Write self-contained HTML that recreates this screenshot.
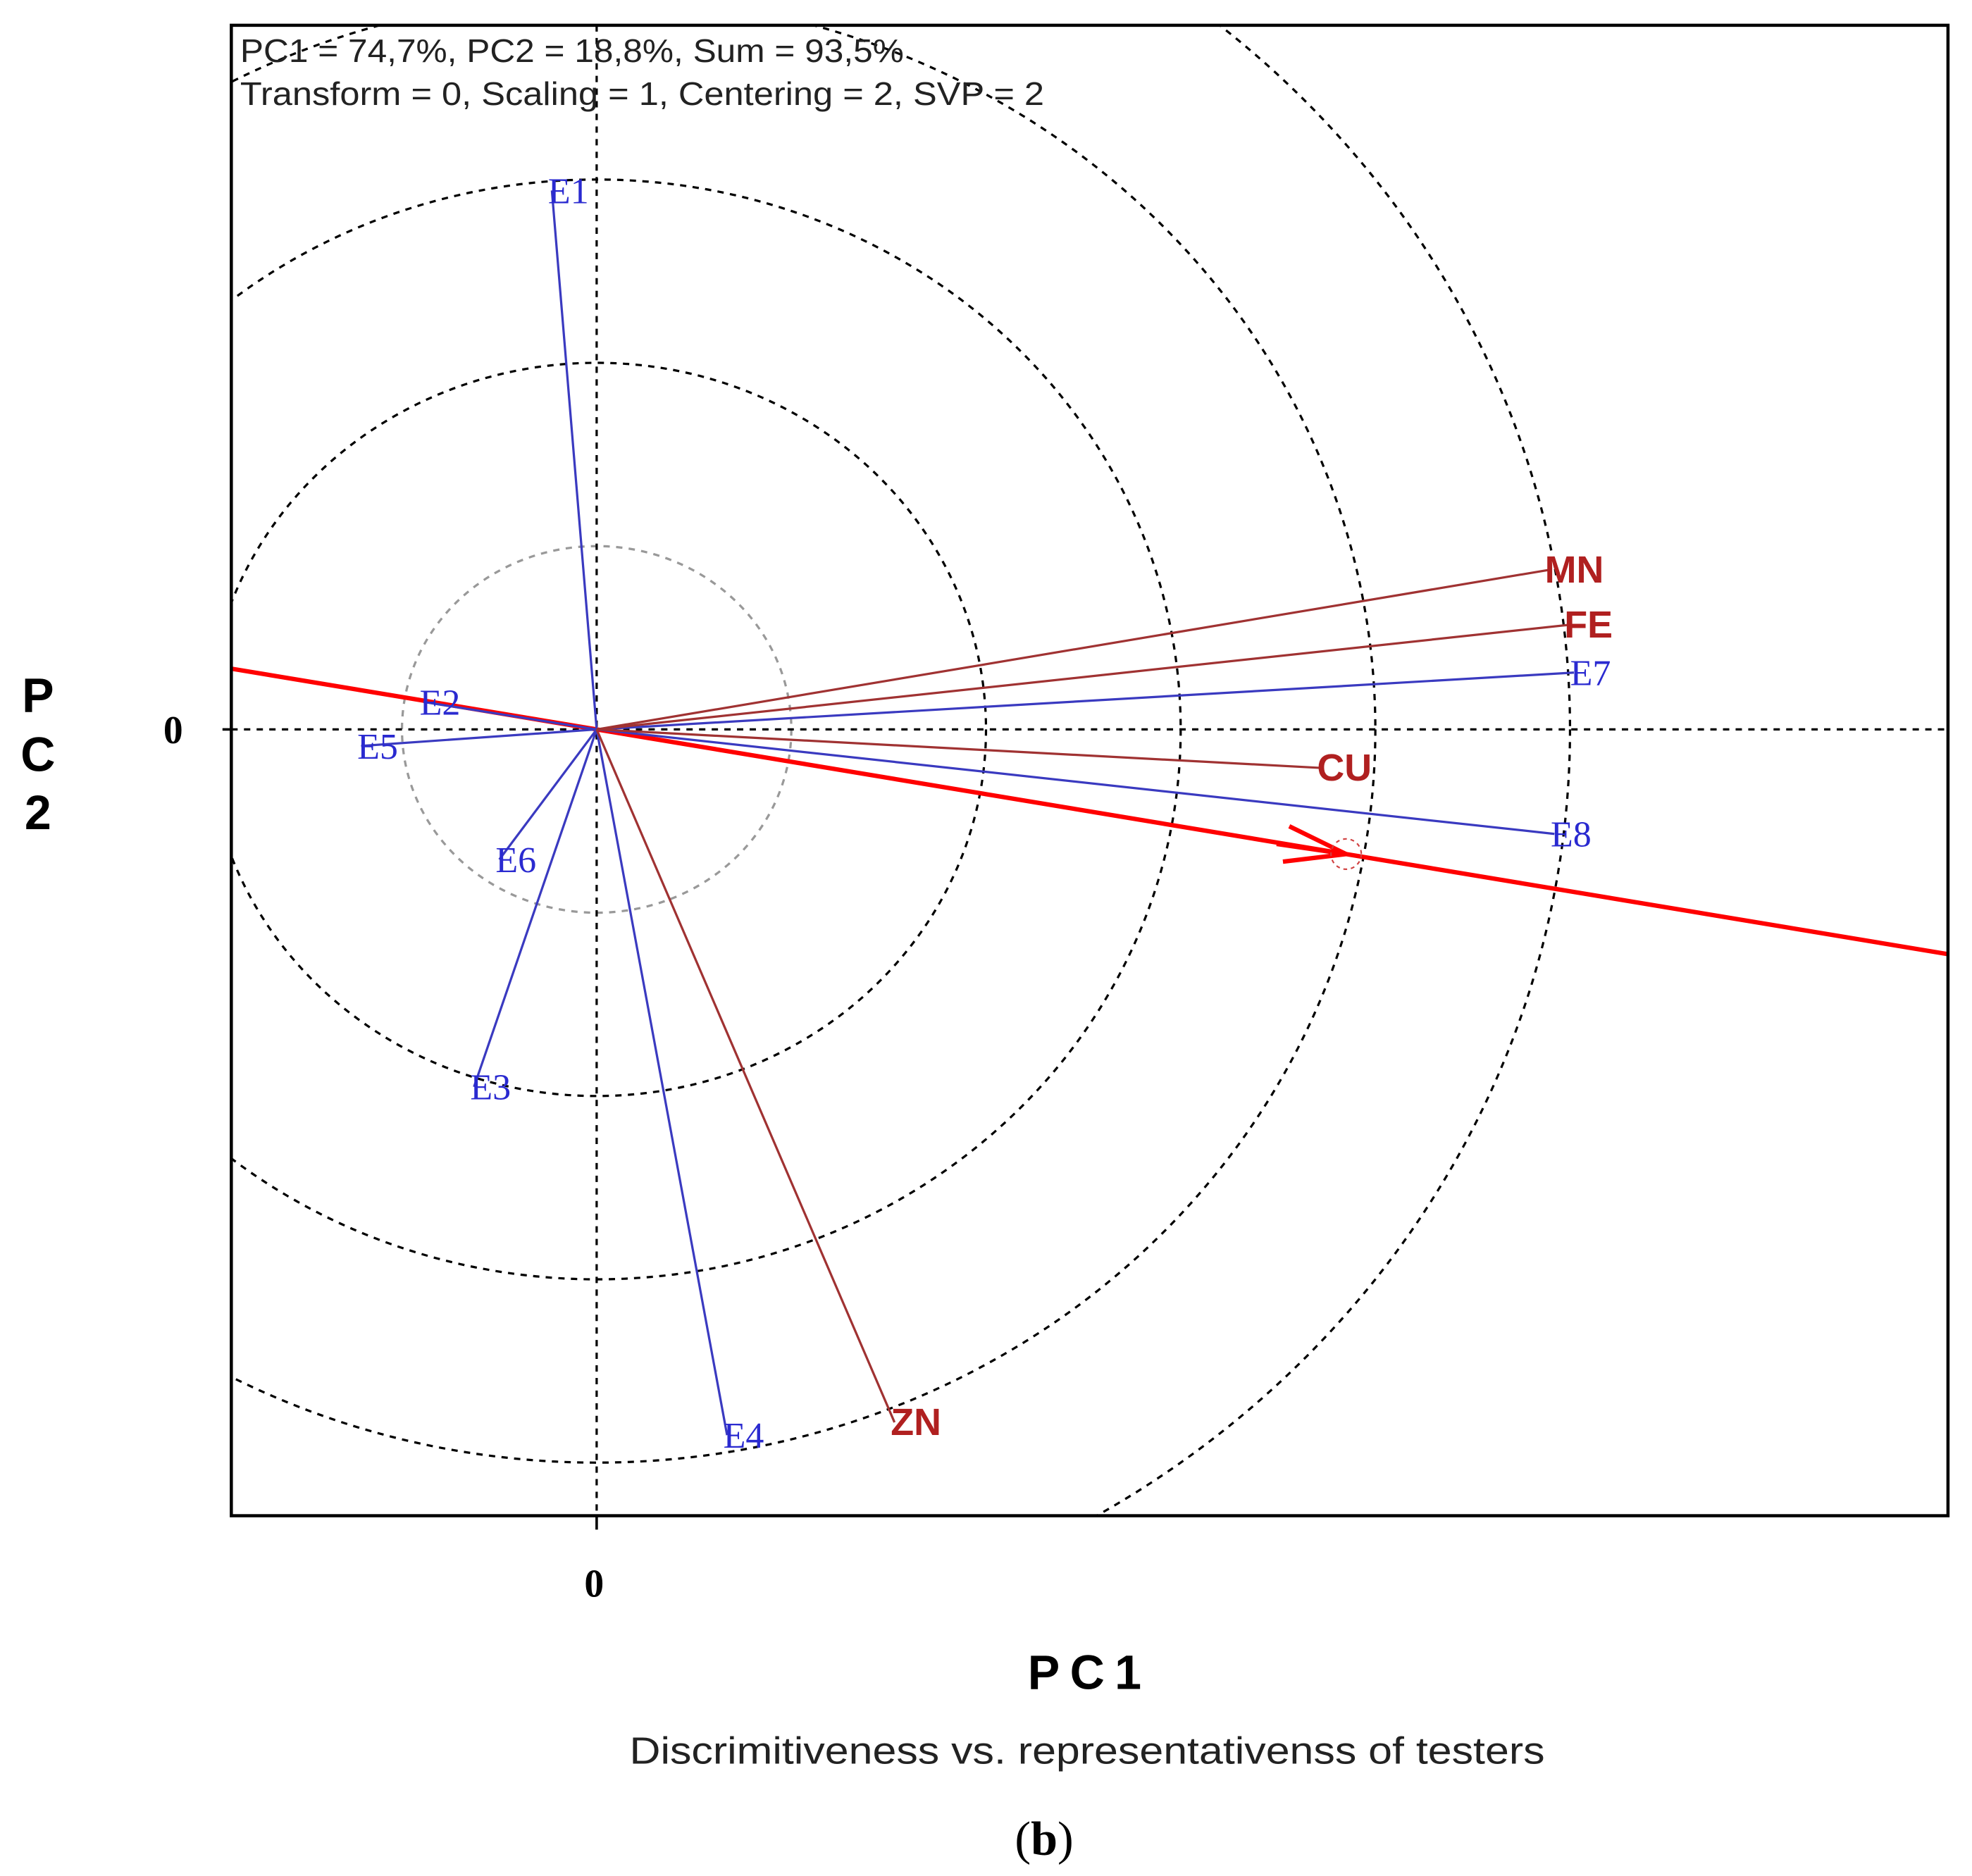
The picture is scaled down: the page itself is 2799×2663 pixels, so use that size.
<!DOCTYPE html>
<html><head><meta charset="utf-8"><style>
html,body{margin:0;padding:0;background:#fff;}
svg{display:block;}
</style></head><body>
<svg id="chart" width="2799" height="2663" viewBox="0 0 1560 1484" preserveAspectRatio="none" xmlns="http://www.w3.org/2000/svg">
<defs><clipPath id="pc"><rect x="183" y="20" width="1358" height="1179"/></clipPath></defs>
<rect x="0" y="0" width="1560" height="1484" fill="#fff"/>
<g id="circles" clip-path="url(#pc)"></g>
<g id="axes"></g>
<g id="vectors"></g>
<rect x="183" y="20" width="1358" height="1179" fill="none" stroke="#000" stroke-width="2.5"/>
<text x="190" y="49" font-family="Liberation Sans, sans-serif" font-size="26" fill="#222" textLength="525" lengthAdjust="spacingAndGlyphs">PC1 = 74,7%, PC2 = 18,8%, Sum = 93,5%</text>
<text x="190" y="83" font-family="Liberation Sans, sans-serif" font-size="26" fill="#222" textLength="636" lengthAdjust="spacingAndGlyphs">Transform = 0, Scaling = 1, Centering = 2, SVP = 2</text>
<text x="137" y="588" text-anchor="middle" font-family="Liberation Serif, serif" font-weight="bold" font-size="31">0</text>
<text x="470" y="1263" text-anchor="middle" font-family="Liberation Serif, serif" font-weight="bold" font-size="31">0</text>
<g font-family="Liberation Sans, sans-serif" font-weight="bold" font-size="38" text-anchor="middle">
<text x="30" y="563">P</text><text x="30" y="610">C</text><text x="30" y="656">2</text></g>
<text x="862" y="1336" text-anchor="middle" font-family="Liberation Sans, sans-serif" font-weight="bold" font-size="38" letter-spacing="8">PC1</text>
<text x="860" y="1395" text-anchor="middle" font-family="Liberation Sans, sans-serif" font-size="30" fill="#222" textLength="724" lengthAdjust="spacingAndGlyphs">Discrimitiveness vs. representativenss of testers</text>
<text x="826" y="1467" text-anchor="middle" font-family="Liberation Serif, serif" font-size="38">(<tspan font-weight="bold">b</tspan>)</text>
</svg>
<script>
const labels = ["E1","E2","E3","E4","E5","E6","E7","E8","MN","FE","CU","ZN"];
const pc1 = [-0.23,-0.89,-0.63,0.67,-1.21,-0.50,5.02,4.92,4.89,4.99,3.72,1.53];
const pc2 = [2.94,0.15,-1.95,-3.85,-0.09,-0.71,0.31,-0.57,0.87,0.57,-0.21,-3.78];
const kinds = ["env","env","env","env","env","env","env","env","trait","trait","trait","trait"];
const circleRadii = [1,2,3,4,5];
const aec = [3.85,-0.68];

const NS="http://www.w3.org/2000/svg";
const ox=472, oy=577, kx=154, ky=145;
const sx=v=>ox+v*kx, sy=v=>oy-v*ky;
function mk(tag,attrs,parent){const e=document.createElementNS(NS,tag);for(const k in attrs)e.setAttribute(k,attrs[k]);parent.appendChild(e);return e;}
const gc=document.getElementById('circles'), ga=document.getElementById('axes'), gv=document.getElementById('vectors');
circleRadii.forEach((r,i)=>{
  const c=mk('ellipse',{cx:sx(0),cy:sy(0),rx:r*kx,ry:r*ky,fill:'none',stroke:i==0?'#999':'#000','stroke-width':1.8,'stroke-dasharray':'5,5'},gc);
  
  
});
const hx=mk('line',{x1:183,y1:oy,x2:1541,y2:oy,stroke:'#000','stroke-width':1.8,'stroke-dasharray':'5,5'},ga);


const vy=mk('line',{x1:ox,y1:20,x2:ox,y2:1199,stroke:'#000','stroke-width':1.8,'stroke-dasharray':'5,5'},ga);


const t1=mk('line',{x1:ox,y1:1199,x2:ox,y2:1210,stroke:'#000','stroke-width':2},ga);


const t2=mk('line',{x1:176,y1:oy,x2:183,y2:oy,stroke:'#000','stroke-width':2},ga);


const slope=aec[1]/aec[0];
const xl=(183-ox)/kx, xr=(1541-ox)/kx;
const aecLine=mk('line',{x1:sx(xl),y1:sy(xl*slope),x2:sx(xr),y2:sy(xr*slope),stroke:'#ff0000','stroke-width':3.5},gv);


const axp=sx(aec[0]), ayp=sy(aec[1]);
const arr=mk('path',{d:`M${axp-55},${ayp-8} L${axp},${ayp} M${axp-45},${ayp-22} L${axp},${ayp} L${axp-50},${ayp+6}`,stroke:'#ff0000','stroke-width':3.5,fill:'none'},gv);


const ac=mk('circle',{cx:axp,cy:ayp,r:12,fill:'none',stroke:'#d04040','stroke-width':1.2,'stroke-dasharray':'3,3'},gv);


labels.forEach((lab,i)=>{
  const env=kinds[i]==='env';
  const col=env?'#3a3ac0':'#a03232';
  const x=sx(pc1[i]), y=sy(pc2[i]);
  const ln=mk('line',{x1:ox,y1:oy,x2:x,y2:y,stroke:col,'stroke-width':1.8},gv);
  
  
  const t=mk('text',{x:x-3,y:y+10,fill:env?'#2a2ad0':'#b02020','font-size':env?29:30,'font-family':env?'Liberation Serif, serif':'Liberation Sans, sans-serif','font-weight':env?'normal':'bold'},gv);
  t.textContent=lab;
  
  
});
</script>
</body></html>
